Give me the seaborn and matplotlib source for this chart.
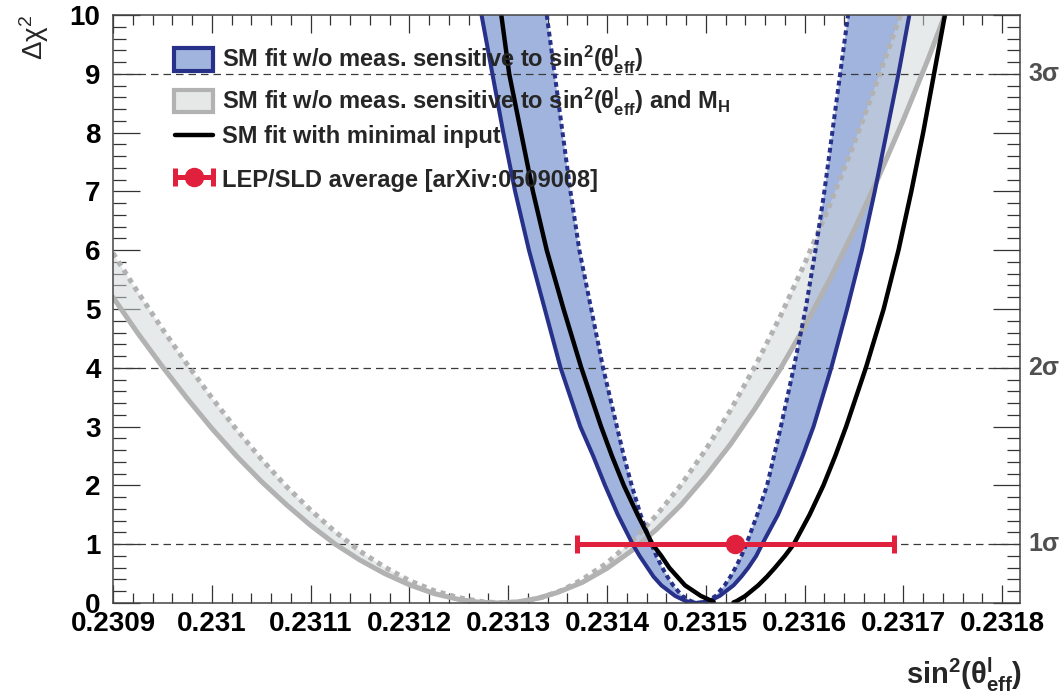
import numpy as np
import matplotlib
matplotlib.use("Agg")
import matplotlib.pyplot as plt
import matplotlib.transforms as mtransforms
from matplotlib.patches import Rectangle
from matplotlib.lines import Line2D
from matplotlib.ticker import MultipleLocator
import seaborn as sns

# ---------------- data ----------------
# SM fit w/o measurements sensitive to sin2(theta_eff): solid outer curve
bs_x = [0.231273, 0.231284, 0.231295, 0.231307, 0.231321, 0.231337, 0.231353, 0.231373,
        0.231386, 0.231398, 0.231411, 0.231426, 0.231433, 0.231441, 0.231447, 0.231455,
        0.231469, 0.231480, 0.231491,
        0.231503, 0.231514, 0.231528, 0.231536, 0.231543, 0.231551, 0.231557, 0.231573,
        0.231586, 0.231598, 0.231609, 0.231627, 0.231643, 0.231658, 0.231671, 0.231683,
        0.231695, 0.231706]
bs_y = [10, 9, 8, 7, 6, 5, 4, 3, 2.5, 2, 1.5, 1, 0.8, 0.6, 0.45, 0.3, 0.12, 0.03, 0,
        0.03, 0.12, 0.3, 0.45, 0.6, 0.8, 1, 1.5, 2, 2.5, 3, 4, 5, 6, 7, 8, 9, 10]
# same fit, dotted inner curve
bd_x = [0.231339, 0.231347, 0.231355, 0.231363, 0.231372, 0.231384, 0.231396, 0.231410,
        0.231417, 0.231425, 0.231434, 0.231445, 0.231450, 0.231456, 0.231461, 0.231467,
        0.231476, 0.231485, 0.231493,
        0.231501, 0.231510, 0.231519, 0.231525, 0.231530, 0.231536, 0.231541, 0.231552,
        0.231562, 0.231569, 0.231576, 0.231589, 0.231601, 0.231611, 0.231620, 0.231628,
        0.231636, 0.231644]
bd_y = [10, 9, 8, 7, 6, 5, 4, 3, 2.5, 2, 1.5, 1, 0.8, 0.6, 0.45, 0.3, 0.12, 0.03, 0,
        0.03, 0.12, 0.3, 0.45, 0.6, 0.8, 1, 1.5, 2, 2.5, 3, 4, 5, 6, 7, 8, 9, 10]
# SM fit w/o sin2 and MH: solid curve
gs_x = [0.230900, 0.230925, 0.230950, 0.230975, 0.231000, 0.231025, 0.231050, 0.231075,
        0.231100, 0.231125, 0.231150, 0.231175, 0.231200, 0.231225, 0.231250, 0.231270,
        0.231290, 0.231310, 0.231330, 0.231350, 0.231375, 0.231400, 0.231425, 0.231450,
        0.231475, 0.231500, 0.231525, 0.231550, 0.231575, 0.231600, 0.231625, 0.231650,
        0.231675, 0.231700, 0.231725, 0.231742]
gs_y = [5.20, 4.59, 4.02, 3.48, 2.97, 2.50, 2.07, 1.68, 1.32, 1.00, 0.73, 0.50, 0.31,
        0.16, 0.06, 0.015, 0, 0.02, 0.08, 0.18, 0.35, 0.59, 0.89, 1.25, 1.67, 2.16, 2.70,
        3.31, 3.97, 4.70, 5.49, 6.34, 7.25, 8.22, 9.25, 10.0]
# same, dotted curve
gd_x = [0.230900, 0.230925, 0.230950, 0.230975, 0.231000, 0.231025, 0.231050, 0.231075,
        0.231100, 0.231125, 0.231150, 0.231175, 0.231200, 0.231225, 0.231250, 0.231275,
        0.231295, 0.231315, 0.231335, 0.231355, 0.231375, 0.231400, 0.231425, 0.231450,
        0.231475, 0.231500, 0.231525, 0.231550, 0.231575, 0.231600, 0.231625, 0.231650,
        0.231675, 0.231697]
gd_y = [5.95, 5.29, 4.66, 4.06, 3.49, 2.95, 2.45, 1.99, 1.58, 1.21, 0.88, 0.61, 0.38,
        0.21, 0.09, 0.02, 0, 0.025, 0.10, 0.22, 0.40, 0.68, 1.05, 1.49, 2.01, 2.61, 3.28,
        4.03, 4.86, 5.77, 6.75, 7.81, 8.95, 10.0]
# SM fit with minimal input (two branches)
bl_x = [0.231293, 0.231301, 0.231313, 0.231325, 0.231339, 0.231356, 0.231374, 0.231394,
        0.231405, 0.231417, 0.231431, 0.231446, 0.231455, 0.231463, 0.231471, 0.231479,
        0.231495, 0.231508]
bl_y = [10, 9, 8, 7, 6, 5, 4, 3, 2.5, 2, 1.5, 1, 0.8, 0.6, 0.45, 0.3, 0.12, 0.02]
br_x = [0.231528, 0.231531, 0.231540, 0.231553, 0.231562, 0.231570, 0.231580, 0.231589,
        0.231605, 0.231619, 0.231631, 0.231642, 0.231662, 0.231680, 0.231695, 0.231708,
        0.231720, 0.231731, 0.231742]
br_y = [0.01, 0.03, 0.12, 0.3, 0.45, 0.6, 0.8, 1, 1.5, 2, 2.5, 3, 4, 5, 6, 7, 8, 9, 10]
# LEP/SLD average
lep_value = [0.23153]
lep_error = [0.00016]
lep_dchi2 = [1.0]

sigma_levels = [1, 4, 9]
sigma_labels = ["1σ", "2σ", "3σ"]
x_ticks = [0.2309, 0.2310, 0.2311, 0.2312, 0.2313, 0.2314, 0.2315, 0.2316, 0.2317, 0.2318]
x_tick_labels = ["0.2309", "0.231", "0.2311", "0.2312", "0.2313", "0.2314",
                 "0.2315", "0.2316", "0.2317", "0.2318"]
y_ticks = [0, 1, 2, 3, 4, 5, 6, 7, 8, 9, 10]

legend_labels = [
    r"SM fit w/o meas. sensitive to sin$^{\mathbf{2}}$(θ$^{\mathbf{l}}_{\mathbf{eff}}$)",
    r"SM fit w/o meas. sensitive to sin$^{\mathbf{2}}$(θ$^{\mathbf{l}}_{\mathbf{eff}}$) and M$_{\mathbf{H}}$",
    "SM fit with minimal input",
    "LEP/SLD average [arXiv:0509008]",
]

# ---------------- style ----------------
sns.set_theme(style="ticks")
plt.rcParams["font.family"] = ["Liberation Sans", "DejaVu Sans"]
plt.rcParams["mathtext.fontset"] = "custom"
plt.rcParams["mathtext.rm"] = "Liberation Sans"
plt.rcParams["mathtext.bf"] = "Liberation Sans:bold"
plt.rcParams["mathtext.it"] = "Liberation Sans:italic"

NAVY = "#27318a"
BLUE_FILL = "#a0b4de"
GRAY_FILL = (208 / 255, 214 / 255, 216 / 255)
GRAY_LINE = "#b2b2b2"
RED = "#e0203c"

W, H = 1063, 696
fig = plt.figure(figsize=(W / 100, H / 100), dpi=100)
ax = fig.add_axes([113 / W, 1 - 603 / H, (1020 - 113) / W, (603 - 15) / H])

# fills
ax.fill(np.r_[bs_x, bd_x[::-1]], np.r_[bs_y, bd_y[::-1]], color=BLUE_FILL, lw=0, zorder=1)
ax.fill(np.r_[gs_x, gd_x[::-1]], np.r_[gs_y, gd_y[::-1]], color=GRAY_FILL, alpha=0.5,
        lw=0, zorder=1.1)

for yv in sigma_levels:
    ax.axhline(yv, color="#3a3a3a", lw=0.9, dashes=(6, 4), zorder=1.5)

def curve(x, y, **kw):
    sns.lineplot(x=x, y=y, sort=False, estimator=None, ax=ax, **kw)

curve(gs_x, gs_y, color=GRAY_LINE, linewidth=3.6, solid_joinstyle="round", zorder=2)
curve(gd_x, gd_y, color=GRAY_LINE, linewidth=3.6, linestyle=(0, (1, 1)),
      dash_capstyle="butt", zorder=2.1)
curve(bs_x, bs_y, color=NAVY, linewidth=2.9, solid_joinstyle="round", zorder=2.2)
curve(bd_x, bd_y, color=NAVY, linewidth=2.9, linestyle=(0, (1.2, 0.9)),
      dash_capstyle="butt", zorder=2.3)
curve(bl_x, bl_y, color="black", linewidth=3.2, solid_joinstyle="round", zorder=2.4)
curve(br_x, br_y, color="black", linewidth=3.2, solid_joinstyle="round", zorder=2.4)

ax.errorbar(lep_value, lep_dchi2, xerr=lep_error, fmt="o", color=RED, ms=13,
            elinewidth=3.6, capsize=6.5, capthick=3.6, zorder=5)

ax.set_xlim(0.2309, 0.231818)
ax.set_ylim(0, 10)
ax.set_xlabel("")
ax.set_ylabel("")
ax.set_xticks(x_ticks)
ax.set_xticklabels(x_tick_labels)
ax.xaxis.set_minor_locator(MultipleLocator(0.00002))
ax.set_yticks(y_ticks)
ax.yaxis.set_minor_locator(MultipleLocator(0.2))
ax.tick_params(axis="both", which="both", direction="in", top=True, right=True,
               color="#333333", width=0.9, labelcolor="black")
ax.tick_params(axis="x", which="major", length=13, pad=6, labelsize=20)
ax.tick_params(axis="x", which="minor", length=7)
ax.tick_params(axis="y", which="major", length=19.5, pad=9, labelsize=20)
ax.tick_params(axis="y", which="minor", length=9.5)
for lab in ax.get_xticklabels() + ax.get_yticklabels():
    lab.set_fontweight("bold")
for s in ax.spines.values():
    s.set_color("#444444")
    s.set_linewidth(1.1)
    s.set_zorder(6)

# sigma labels on the right
trans = mtransforms.blended_transform_factory(ax.transAxes, ax.transData)
for yv, lab in zip(sigma_levels, sigma_labels):
    ax.text(1.009, yv, lab, transform=trans, ha="left", va="center", fontsize=18,
            fontweight="bold", color="#505050", clip_on=False)

# axis titles
fig.text(34 / W, 1 - 15 / H, "Δχ$^{2}$", rotation=90, ha="center", va="top", fontsize=20)
fig.text(1022 / W, 1 - 684 / H, r"sin$^{\mathbf{2}}$(θ$^{\mathbf{l}}_{\mathbf{eff}}$)",
         ha="right", va="baseline", fontsize=21, fontweight="bold")

# legend (manual, in figure pixels)
def fx(px):
    return px / W

def fy(py):
    return 1 - py / H

fig.patches.append(Rectangle((fx(174), fy(71)), 39 / W, 23 / H, transform=fig.transFigure,
                             facecolor=BLUE_FILL, edgecolor=NAVY, lw=3, zorder=10))
fig.patches.append(Rectangle((fx(174), fy(112)), 39 / W, 22 / H, transform=fig.transFigure,
                             facecolor="#e6e8e8", edgecolor=GRAY_LINE, lw=3, zorder=10))
fig.lines.append(Line2D([fx(175), fx(213)], [fy(135), fy(135)], transform=fig.transFigure,
                        color="black", lw=3.2))
fig.lines.append(Line2D([fx(175), fx(213)], [fy(177), fy(177)], transform=fig.transFigure,
                        color=RED, lw=3.6, marker="|", ms=13, mew=3.6))
fig.lines.append(Line2D([fx(194)], [fy(177)], transform=fig.transFigure,
                        color=RED, marker="o", ms=13, lw=0))
for lab, base in zip(legend_labels, [67.5, 109.5, 143.5, 186.5]):
    fig.text(fx(222), fy(base), lab, ha="left", va="baseline", fontsize=17,
             fontweight="bold", zorder=11)

fig.savefig("out.png", dpi=100)
